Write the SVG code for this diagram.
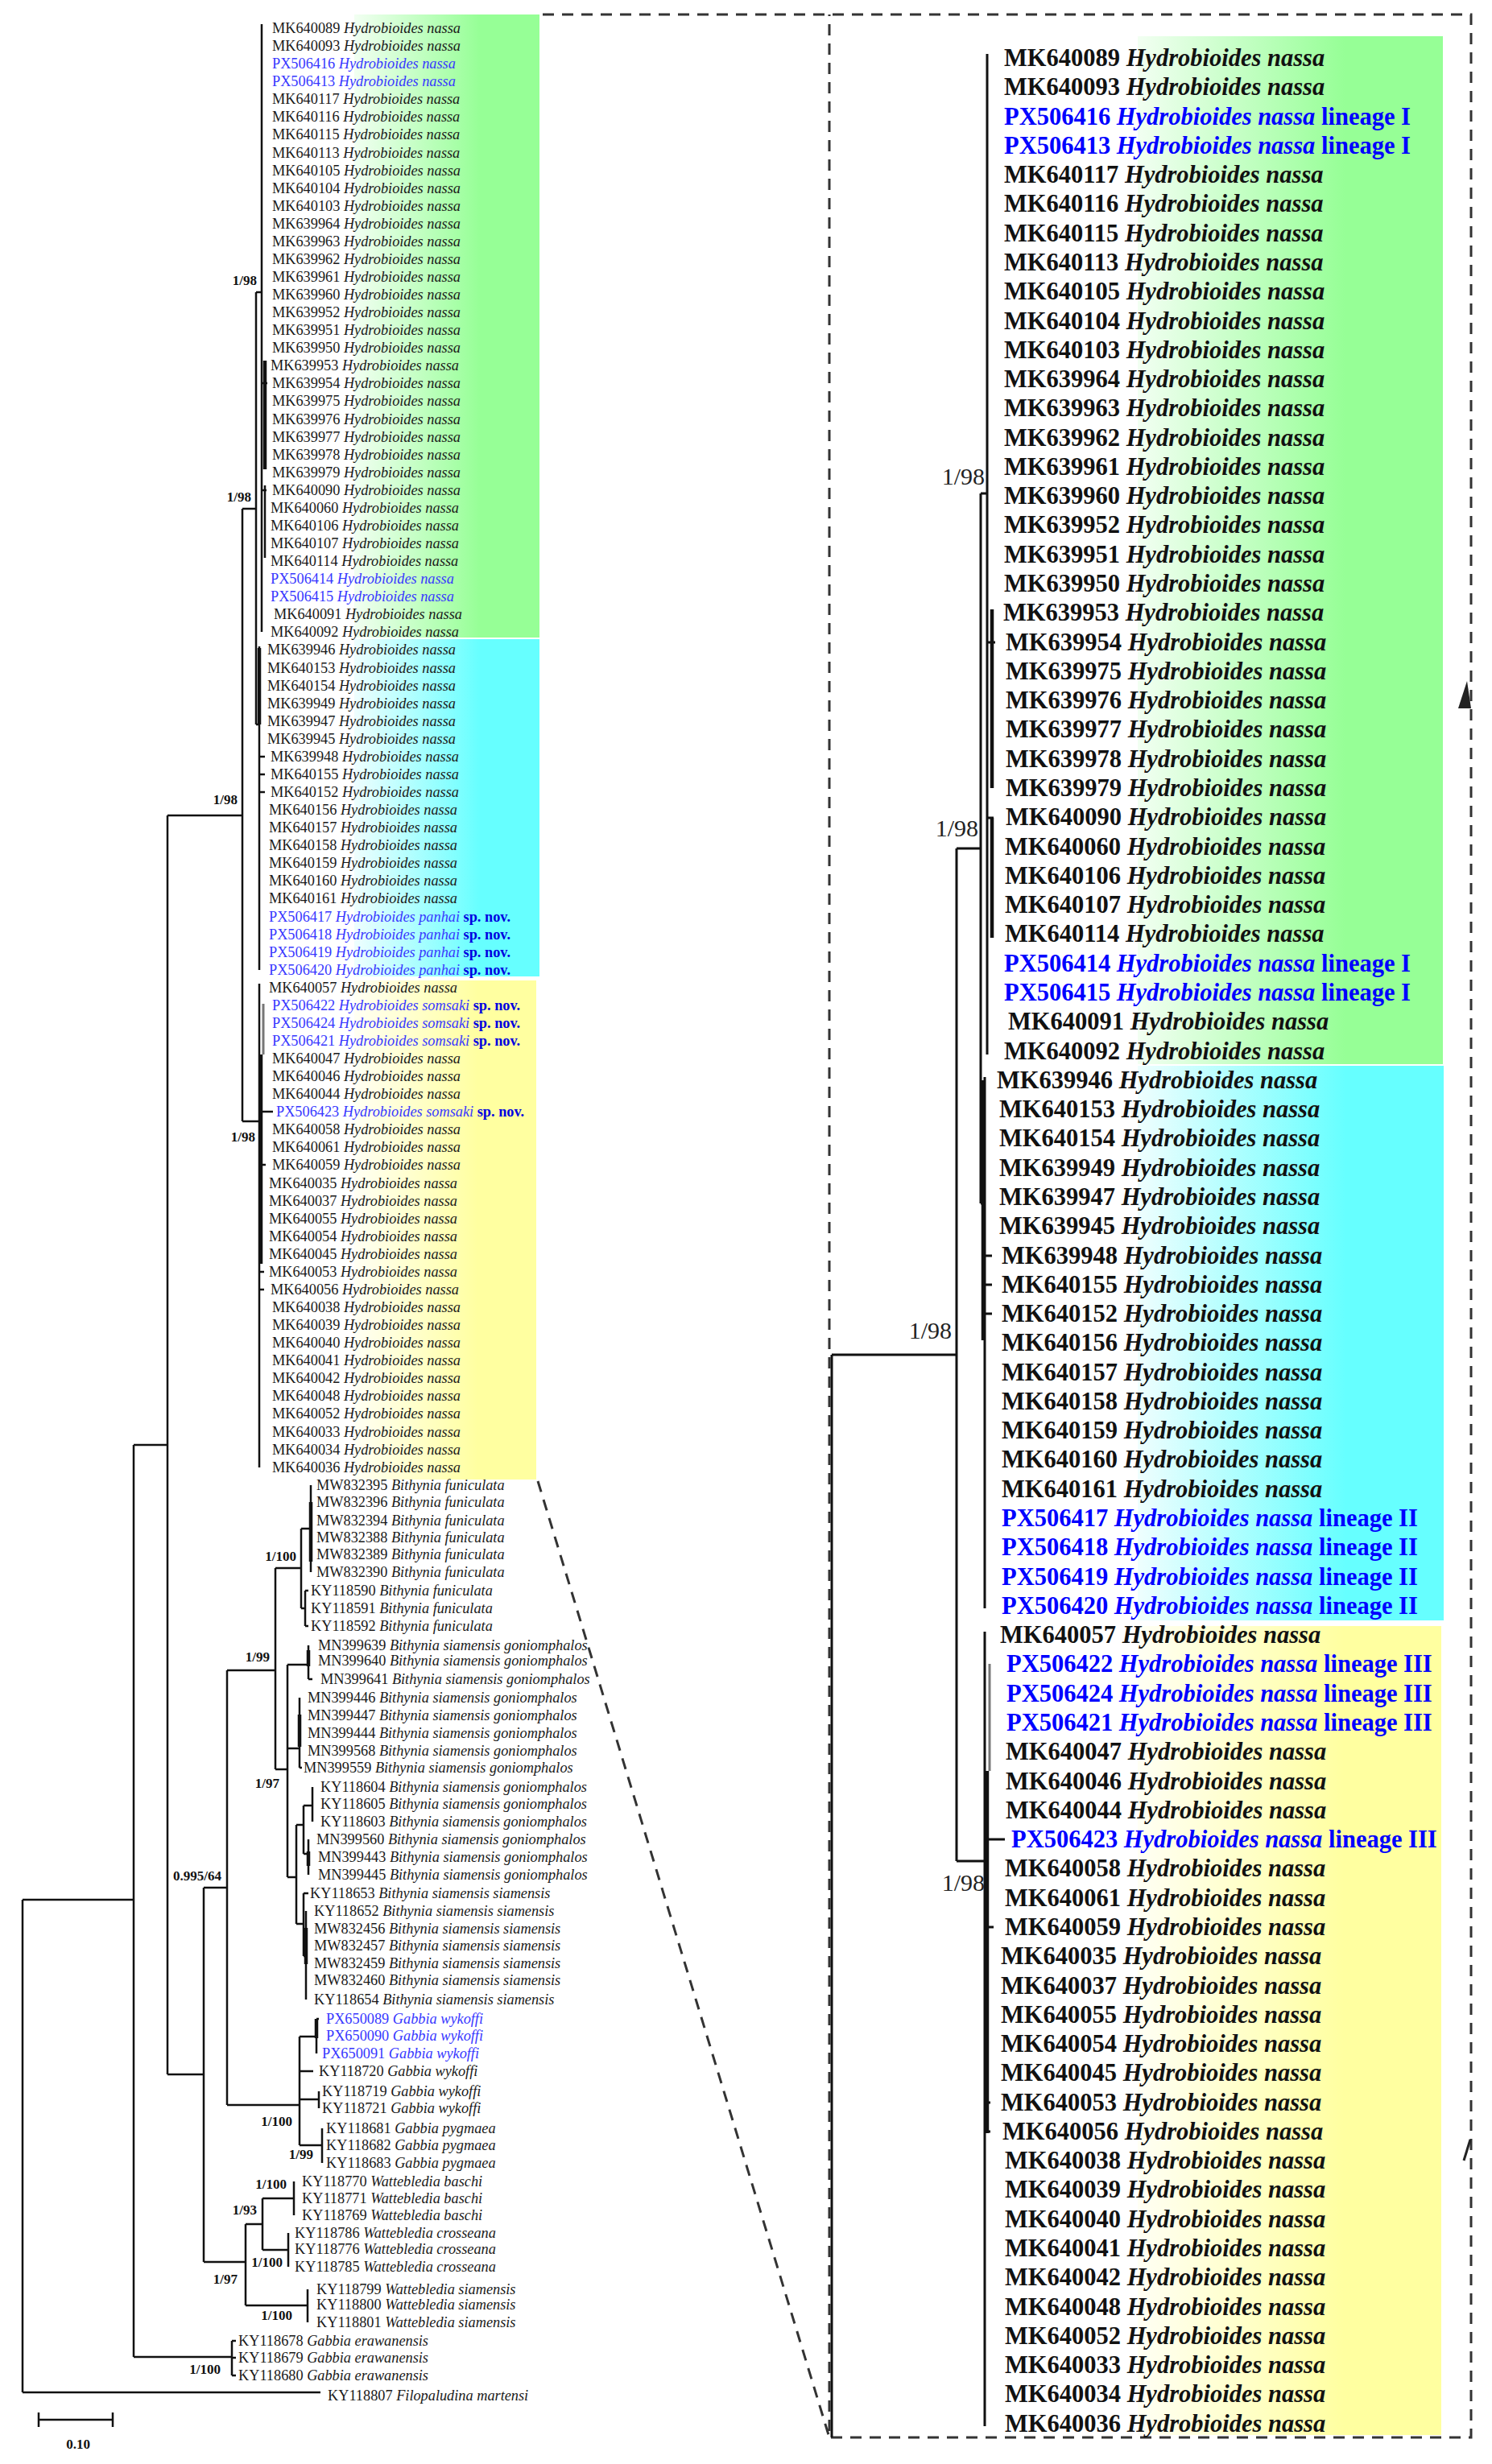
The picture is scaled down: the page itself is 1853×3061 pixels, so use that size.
<svg xmlns="http://www.w3.org/2000/svg" width="1853" height="3061" viewBox="0 0 1853 3061">
<style>
.t{font-family:"Liberation Serif","Times New Roman",serif;font-size:18.3px;fill:#1a1a1a}
.b{fill:#3838ff}
.i{font-style:italic}
.sn{font-weight:bold;fill:#0000e0}
.s{font-family:"Liberation Serif","Times New Roman",serif;font-size:17px;font-weight:bold;fill:#111;text-anchor:end}
.r{font-family:"Liberation Serif","Times New Roman",serif;font-size:30.5px;font-weight:bold;fill:#111}
.rb{fill:#0000ff}
.rs{font-family:"Liberation Serif","Times New Roman",serif;font-size:30px;fill:#222;text-anchor:end}
.br{fill:none;stroke:#111;stroke-width:2.5}
.bt{fill:none;stroke:#111;stroke-width:4.5}
.bg{fill:none;stroke:#777;stroke-width:3}
.rr{fill:none;stroke:#111;stroke-width:3}
.dash{fill:none;stroke:#333;stroke-width:3;stroke-dasharray:14 10}
</style>
<defs>
<linearGradient id="gG" x1="0" x2="1" y1="0" y2="0"><stop offset="0" stop-color="#f2fff2"/><stop offset="0.68" stop-color="#96ff96"/><stop offset="1" stop-color="#96ff96"/></linearGradient>
<linearGradient id="gC" x1="0" x2="1" y1="0" y2="0"><stop offset="0" stop-color="#effefe"/><stop offset="0.68" stop-color="#66ffff"/><stop offset="1" stop-color="#66ffff"/></linearGradient>
<linearGradient id="gY" x1="0" x2="1" y1="0" y2="0"><stop offset="0" stop-color="#fffff4"/><stop offset="0.68" stop-color="#ffffa0"/><stop offset="1" stop-color="#ffffa0"/></linearGradient>
</defs>
<rect width="1853" height="3061" fill="#fff"/>
<g id="clade-boxes">
<rect x="440" y="18" width="230" height="774" fill="url(#gG)"/>
<rect x="440" y="794" width="230" height="419" fill="url(#gC)"/>
<rect x="440" y="1218" width="226" height="620" fill="url(#gY)"/>
<rect x="1413" y="45" width="379" height="1277" fill="url(#gG)"/>
<rect x="1413" y="1324" width="380" height="689" fill="url(#gC)"/>
<rect x="1413" y="2020" width="377" height="1005" fill="url(#gY)"/>
</g>
<g id="zoom-frame">
<path class="dash" d="M674 18H1827V3028H1030V18M668 1840L1030 3028"/>
<path d="M1822 846L1827 880L1811 880Z" fill="#222"/>
<path d="M1826 2658L1818 2684" stroke="#222" stroke-width="3"/>
</g>
<g id="connectors">
<path class="br" d="M28 2360V2972M28 2360H166M28 2972H398M166 1795V2928M166 1795H208M166 2928H288M288 2908V2951M288 2908H293M288 2929H293M288 2951H293M208 1013V2577M208 1013H301M208 2577H253M253 2345V2810M253 2345H282M253 2810H305M282 2075V2615M282 2075H342M282 2615H372M342 1948V2198M342 1948H374M342 2198H357"/>
<path class="br" d="M374 1899V1998M374 1899H386M374 1998H379M386 1845V1953M379 1976V2020M379 1976H383M379 2020H383M357 2068V2332M357 2068H383M357 2172H372M357 2332H368M383 2044V2086M383 2086H388M372 2109V2196M372 2196H375M368 2267V2390M368 2267H377M368 2390H377M377 2243V2303M377 2243H388M377 2303H383M388 2220V2263M383 2285V2329M377 2352V2430M377 2352H383M377 2430H380M380 2374V2484"/>
<path class="bt" d="M386 1866V1940M383 2050V2070M372 2130V2170M383 2300V2318M380 2395V2440"/>
<path class="br" d="M372 2530V2665M372 2530H393M372 2573H389M372 2608H396M372 2665H400M393 2508V2551M393 2508H396M396 2598V2619M400 2644V2687M305 2763V2864M305 2763H326M305 2864H382M326 2731V2795M326 2731H365M326 2795H358M365 2710V2752M358 2774V2816M382 2844V2885"/>
<path class="bt" d="M393 2508V2532"/>
<path class="br" d="M325 30V785M325 476H332M329 603V693M325 609H331M318 363V900M318 363H325M318 900H322M322 803V1205M322 940H329M322 962H329M322 984H329M301 632V1393M301 632H318M301 1393H322M322 1222V1823M322 1381H339M322 1447H330M322 1580H328M322 1602H328"/>
<path class="bt" d="M329 448V583M322 805V900M324 1310V1570"/>
<path class="bg" d="M327 1247V1310"/>
<path class="rr" d="M1033 1683V3028M1033 1683H1188M1188 1054V2312M1188 1054H1218M1188 2312H1223M1218 613V1495M1218 613H1226M1218 1495H1223M1226 67V1310M1226 798H1236M1226 1016H1234M1223 1338V1998M1223 1560H1232M1223 1596H1232M1223 1632H1232M1223 2027V3014M1223 2285H1248M1223 2394H1234M1223 2612H1230M1223 2648H1230"/>
<path class="bt" d="M1232 757V979M1232 1016V1165M1221 1342V1665M1226 2200V2650"/>
<path class="bg" d="M1229 2067V2200"/>
<path class="br" d="M48 3006H140M48 2997V3015M140 2997V3015"/>
</g>
<g id="support-values">
<text class="s" x="319" y="354">1/98</text>
<text class="s" x="312" y="623">1/98</text>
<text class="s" x="295" y="999">1/98</text>
<text class="s" x="317" y="1418">1/98</text>
<text class="s" x="368" y="1939">1/100</text>
<text class="s" x="335" y="2064">1/99</text>
<text class="s" x="347" y="2221">1/97</text>
<text class="s" x="275" y="2336">0.995/64</text>
<text class="s" x="363" y="2641">1/100</text>
<text class="s" x="389" y="2682">1/99</text>
<text class="s" x="356" y="2719">1/100</text>
<text class="s" x="319" y="2751">1/93</text>
<text class="s" x="351" y="2816">1/100</text>
<text class="s" x="295" y="2837">1/97</text>
<text class="s" x="363" y="2882">1/100</text>
<text class="s" x="274" y="2949">1/100</text>
<text class="rs" x="1223" y="602">1/98</text>
<text class="rs" x="1215" y="1039">1/98</text>
<text class="rs" x="1182" y="1663">1/98</text>
<text class="rs" x="1223" y="2349">1/98</text>
</g>
<g id="scale-label"><text class="s" x="112" y="3042">0.10</text></g>
<g id="left-hydrobioides">
<g id="L-MK640089"><text class="t" x="338" y="41">MK640089 <tspan class="i">Hydrobioides nassa</tspan></text></g>
<g id="L-MK640093"><text class="t" x="338" y="63">MK640093 <tspan class="i">Hydrobioides nassa</tspan></text></g>
<g id="L-PX506416"><text class="t b" x="338" y="85">PX506416 <tspan class="i">Hydrobioides nassa</tspan></text></g>
<g id="L-PX506413"><text class="t b" x="338" y="107">PX506413 <tspan class="i">Hydrobioides nassa</tspan></text></g>
<g id="L-MK640117"><text class="t" x="338" y="129">MK640117 <tspan class="i">Hydrobioides nassa</tspan></text></g>
<g id="L-MK640116"><text class="t" x="338" y="151">MK640116 <tspan class="i">Hydrobioides nassa</tspan></text></g>
<g id="L-MK640115"><text class="t" x="338" y="173">MK640115 <tspan class="i">Hydrobioides nassa</tspan></text></g>
<g id="L-MK640113"><text class="t" x="338" y="196">MK640113 <tspan class="i">Hydrobioides nassa</tspan></text></g>
<g id="L-MK640105"><text class="t" x="338" y="218">MK640105 <tspan class="i">Hydrobioides nassa</tspan></text></g>
<g id="L-MK640104"><text class="t" x="338" y="240">MK640104 <tspan class="i">Hydrobioides nassa</tspan></text></g>
<g id="L-MK640103"><text class="t" x="338" y="262">MK640103 <tspan class="i">Hydrobioides nassa</tspan></text></g>
<g id="L-MK639964"><text class="t" x="338" y="284">MK639964 <tspan class="i">Hydrobioides nassa</tspan></text></g>
<g id="L-MK639963"><text class="t" x="338" y="306">MK639963 <tspan class="i">Hydrobioides nassa</tspan></text></g>
<g id="L-MK639962"><text class="t" x="338" y="328">MK639962 <tspan class="i">Hydrobioides nassa</tspan></text></g>
<g id="L-MK639961"><text class="t" x="338" y="350">MK639961 <tspan class="i">Hydrobioides nassa</tspan></text></g>
<g id="L-MK639960"><text class="t" x="338" y="372">MK639960 <tspan class="i">Hydrobioides nassa</tspan></text></g>
<g id="L-MK639952"><text class="t" x="338" y="394">MK639952 <tspan class="i">Hydrobioides nassa</tspan></text></g>
<g id="L-MK639951"><text class="t" x="338" y="416">MK639951 <tspan class="i">Hydrobioides nassa</tspan></text></g>
<g id="L-MK639950"><text class="t" x="338" y="438">MK639950 <tspan class="i">Hydrobioides nassa</tspan></text></g>
<g id="L-MK639953"><text class="t" x="336" y="460">MK639953 <tspan class="i">Hydrobioides nassa</tspan></text></g>
<g id="L-MK639954"><text class="t" x="338" y="482">MK639954 <tspan class="i">Hydrobioides nassa</tspan></text></g>
<g id="L-MK639975"><text class="t" x="338" y="504">MK639975 <tspan class="i">Hydrobioides nassa</tspan></text></g>
<g id="L-MK639976"><text class="t" x="338" y="527">MK639976 <tspan class="i">Hydrobioides nassa</tspan></text></g>
<g id="L-MK639977"><text class="t" x="338" y="549">MK639977 <tspan class="i">Hydrobioides nassa</tspan></text></g>
<g id="L-MK639978"><text class="t" x="338" y="571">MK639978 <tspan class="i">Hydrobioides nassa</tspan></text></g>
<g id="L-MK639979"><text class="t" x="338" y="593">MK639979 <tspan class="i">Hydrobioides nassa</tspan></text></g>
<g id="L-MK640090"><text class="t" x="338" y="615">MK640090 <tspan class="i">Hydrobioides nassa</tspan></text></g>
<g id="L-MK640060"><text class="t" x="336" y="637">MK640060 <tspan class="i">Hydrobioides nassa</tspan></text></g>
<g id="L-MK640106"><text class="t" x="336" y="659">MK640106 <tspan class="i">Hydrobioides nassa</tspan></text></g>
<g id="L-MK640107"><text class="t" x="336" y="681">MK640107 <tspan class="i">Hydrobioides nassa</tspan></text></g>
<g id="L-MK640114"><text class="t" x="336" y="703">MK640114 <tspan class="i">Hydrobioides nassa</tspan></text></g>
<g id="L-PX506414"><text class="t b" x="336" y="725">PX506414 <tspan class="i">Hydrobioides nassa</tspan></text></g>
<g id="L-PX506415"><text class="t b" x="336" y="747">PX506415 <tspan class="i">Hydrobioides nassa</tspan></text></g>
<g id="L-MK640091"><text class="t" x="340" y="769">MK640091 <tspan class="i">Hydrobioides nassa</tspan></text></g>
<g id="L-MK640092"><text class="t" x="336" y="791">MK640092 <tspan class="i">Hydrobioides nassa</tspan></text></g>
<g id="L-MK639946"><text class="t" x="332" y="813">MK639946 <tspan class="i">Hydrobioides nassa</tspan></text></g>
<g id="L-MK640153"><text class="t" x="332" y="836">MK640153 <tspan class="i">Hydrobioides nassa</tspan></text></g>
<g id="L-MK640154"><text class="t" x="332" y="858">MK640154 <tspan class="i">Hydrobioides nassa</tspan></text></g>
<g id="L-MK639949"><text class="t" x="332" y="880">MK639949 <tspan class="i">Hydrobioides nassa</tspan></text></g>
<g id="L-MK639947"><text class="t" x="332" y="902">MK639947 <tspan class="i">Hydrobioides nassa</tspan></text></g>
<g id="L-MK639945"><text class="t" x="332" y="924">MK639945 <tspan class="i">Hydrobioides nassa</tspan></text></g>
<g id="L-MK639948"><text class="t" x="336" y="946">MK639948 <tspan class="i">Hydrobioides nassa</tspan></text></g>
<g id="L-MK640155"><text class="t" x="336" y="968">MK640155 <tspan class="i">Hydrobioides nassa</tspan></text></g>
<g id="L-MK640152"><text class="t" x="336" y="990">MK640152 <tspan class="i">Hydrobioides nassa</tspan></text></g>
<g id="L-MK640156"><text class="t" x="334" y="1012">MK640156 <tspan class="i">Hydrobioides nassa</tspan></text></g>
<g id="L-MK640157"><text class="t" x="334" y="1034">MK640157 <tspan class="i">Hydrobioides nassa</tspan></text></g>
<g id="L-MK640158"><text class="t" x="334" y="1056">MK640158 <tspan class="i">Hydrobioides nassa</tspan></text></g>
<g id="L-MK640159"><text class="t" x="334" y="1078">MK640159 <tspan class="i">Hydrobioides nassa</tspan></text></g>
<g id="L-MK640160"><text class="t" x="334" y="1100">MK640160 <tspan class="i">Hydrobioides nassa</tspan></text></g>
<g id="L-MK640161"><text class="t" x="334" y="1122">MK640161 <tspan class="i">Hydrobioides nassa</tspan></text></g>
<g id="L-PX506417"><text class="t b" x="334" y="1145">PX506417 <tspan class="i">Hydrobioides panhai</tspan> <tspan class="sn">sp. nov.</tspan></text></g>
<g id="L-PX506418"><text class="t b" x="334" y="1167">PX506418 <tspan class="i">Hydrobioides panhai</tspan> <tspan class="sn">sp. nov.</tspan></text></g>
<g id="L-PX506419"><text class="t b" x="334" y="1189">PX506419 <tspan class="i">Hydrobioides panhai</tspan> <tspan class="sn">sp. nov.</tspan></text></g>
<g id="L-PX506420"><text class="t b" x="334" y="1211">PX506420 <tspan class="i">Hydrobioides panhai</tspan> <tspan class="sn">sp. nov.</tspan></text></g>
<g id="L-MK640057"><text class="t" x="334" y="1233">MK640057 <tspan class="i">Hydrobioides nassa</tspan></text></g>
<g id="L-PX506422"><text class="t b" x="338" y="1255">PX506422 <tspan class="i">Hydrobioides somsaki</tspan> <tspan class="sn">sp. nov.</tspan></text></g>
<g id="L-PX506424"><text class="t b" x="338" y="1277">PX506424 <tspan class="i">Hydrobioides somsaki</tspan> <tspan class="sn">sp. nov.</tspan></text></g>
<g id="L-PX506421"><text class="t b" x="338" y="1299">PX506421 <tspan class="i">Hydrobioides somsaki</tspan> <tspan class="sn">sp. nov.</tspan></text></g>
<g id="L-MK640047"><text class="t" x="338" y="1321">MK640047 <tspan class="i">Hydrobioides nassa</tspan></text></g>
<g id="L-MK640046"><text class="t" x="338" y="1343">MK640046 <tspan class="i">Hydrobioides nassa</tspan></text></g>
<g id="L-MK640044"><text class="t" x="338" y="1365">MK640044 <tspan class="i">Hydrobioides nassa</tspan></text></g>
<g id="L-PX506423"><text class="t b" x="343" y="1387">PX506423 <tspan class="i">Hydrobioides somsaki</tspan> <tspan class="sn">sp. nov.</tspan></text></g>
<g id="L-MK640058"><text class="t" x="338" y="1409">MK640058 <tspan class="i">Hydrobioides nassa</tspan></text></g>
<g id="L-MK640061"><text class="t" x="338" y="1431">MK640061 <tspan class="i">Hydrobioides nassa</tspan></text></g>
<g id="L-MK640059"><text class="t" x="338" y="1453">MK640059 <tspan class="i">Hydrobioides nassa</tspan></text></g>
<g id="L-MK640035"><text class="t" x="334" y="1476">MK640035 <tspan class="i">Hydrobioides nassa</tspan></text></g>
<g id="L-MK640037"><text class="t" x="334" y="1498">MK640037 <tspan class="i">Hydrobioides nassa</tspan></text></g>
<g id="L-MK640055"><text class="t" x="334" y="1520">MK640055 <tspan class="i">Hydrobioides nassa</tspan></text></g>
<g id="L-MK640054"><text class="t" x="334" y="1542">MK640054 <tspan class="i">Hydrobioides nassa</tspan></text></g>
<g id="L-MK640045"><text class="t" x="334" y="1564">MK640045 <tspan class="i">Hydrobioides nassa</tspan></text></g>
<g id="L-MK640053"><text class="t" x="334" y="1586">MK640053 <tspan class="i">Hydrobioides nassa</tspan></text></g>
<g id="L-MK640056"><text class="t" x="336" y="1608">MK640056 <tspan class="i">Hydrobioides nassa</tspan></text></g>
<g id="L-MK640038"><text class="t" x="338" y="1630">MK640038 <tspan class="i">Hydrobioides nassa</tspan></text></g>
<g id="L-MK640039"><text class="t" x="338" y="1652">MK640039 <tspan class="i">Hydrobioides nassa</tspan></text></g>
<g id="L-MK640040"><text class="t" x="338" y="1674">MK640040 <tspan class="i">Hydrobioides nassa</tspan></text></g>
<g id="L-MK640041"><text class="t" x="338" y="1696">MK640041 <tspan class="i">Hydrobioides nassa</tspan></text></g>
<g id="L-MK640042"><text class="t" x="338" y="1718">MK640042 <tspan class="i">Hydrobioides nassa</tspan></text></g>
<g id="L-MK640048"><text class="t" x="338" y="1740">MK640048 <tspan class="i">Hydrobioides nassa</tspan></text></g>
<g id="L-MK640052"><text class="t" x="338" y="1762">MK640052 <tspan class="i">Hydrobioides nassa</tspan></text></g>
<g id="L-MK640033"><text class="t" x="338" y="1785">MK640033 <tspan class="i">Hydrobioides nassa</tspan></text></g>
<g id="L-MK640034"><text class="t" x="338" y="1807">MK640034 <tspan class="i">Hydrobioides nassa</tspan></text></g>
<g id="L-MK640036"><text class="t" x="338" y="1829">MK640036 <tspan class="i">Hydrobioides nassa</tspan></text></g>
</g>
<g id="left-outgroups">
<g id="L-MW832395"><text class="t" x="393" y="1851">MW832395 <tspan class="i">Bithynia funiculata</tspan></text></g>
<g id="L-MW832396"><text class="t" x="393" y="1872">MW832396 <tspan class="i">Bithynia funiculata</tspan></text></g>
<g id="L-MW832394"><text class="t" x="393" y="1895">MW832394 <tspan class="i">Bithynia funiculata</tspan></text></g>
<g id="L-MW832388"><text class="t" x="393" y="1916">MW832388 <tspan class="i">Bithynia funiculata</tspan></text></g>
<g id="L-MW832389"><text class="t" x="393" y="1937">MW832389 <tspan class="i">Bithynia funiculata</tspan></text></g>
<g id="L-MW832390"><text class="t" x="393" y="1959">MW832390 <tspan class="i">Bithynia funiculata</tspan></text></g>
<g id="L-KY118590"><text class="t" x="386" y="1982">KY118590 <tspan class="i">Bithynia funiculata</tspan></text></g>
<g id="L-KY118591"><text class="t" x="386" y="2004">KY118591 <tspan class="i">Bithynia funiculata</tspan></text></g>
<g id="L-KY118592"><text class="t" x="386" y="2026">KY118592 <tspan class="i">Bithynia funiculata</tspan></text></g>
<g id="L-MN399639"><text class="t" x="395" y="2050">MN399639 <tspan class="i">Bithynia siamensis goniomphalos</tspan></text></g>
<g id="L-MN399640"><text class="t" x="395" y="2069">MN399640 <tspan class="i">Bithynia siamensis goniomphalos</tspan></text></g>
<g id="L-MN399641"><text class="t" x="398" y="2092">MN399641 <tspan class="i">Bithynia siamensis goniomphalos</tspan></text></g>
<g id="L-MN399446"><text class="t" x="382" y="2115">MN399446 <tspan class="i">Bithynia siamensis goniomphalos</tspan></text></g>
<g id="L-MN399447"><text class="t" x="382" y="2137">MN399447 <tspan class="i">Bithynia siamensis goniomphalos</tspan></text></g>
<g id="L-MN399444"><text class="t" x="382" y="2159">MN399444 <tspan class="i">Bithynia siamensis goniomphalos</tspan></text></g>
<g id="L-MN399568"><text class="t" x="382" y="2181">MN399568 <tspan class="i">Bithynia siamensis goniomphalos</tspan></text></g>
<g id="L-MN399559"><text class="t" x="377" y="2202">MN399559 <tspan class="i">Bithynia siamensis goniomphalos</tspan></text></g>
<g id="L-KY118604"><text class="t" x="398" y="2226">KY118604 <tspan class="i">Bithynia siamensis goniomphalos</tspan></text></g>
<g id="L-KY118605"><text class="t" x="398" y="2247">KY118605 <tspan class="i">Bithynia siamensis goniomphalos</tspan></text></g>
<g id="L-KY118603"><text class="t" x="398" y="2269">KY118603 <tspan class="i">Bithynia siamensis goniomphalos</tspan></text></g>
<g id="L-MN399560"><text class="t" x="393" y="2291">MN399560 <tspan class="i">Bithynia siamensis goniomphalos</tspan></text></g>
<g id="L-MN399443"><text class="t" x="395" y="2313">MN399443 <tspan class="i">Bithynia siamensis goniomphalos</tspan></text></g>
<g id="L-MN399445"><text class="t" x="395" y="2335">MN399445 <tspan class="i">Bithynia siamensis goniomphalos</tspan></text></g>
<g id="L-KY118653"><text class="t" x="385" y="2358">KY118653 <tspan class="i">Bithynia siamensis siamensis</tspan></text></g>
<g id="L-KY118652"><text class="t" x="390" y="2380">KY118652 <tspan class="i">Bithynia siamensis siamensis</tspan></text></g>
<g id="L-MW832456"><text class="t" x="390" y="2402">MW832456 <tspan class="i">Bithynia siamensis siamensis</tspan></text></g>
<g id="L-MW832457"><text class="t" x="390" y="2423">MW832457 <tspan class="i">Bithynia siamensis siamensis</tspan></text></g>
<g id="L-MW832459"><text class="t" x="390" y="2445">MW832459 <tspan class="i">Bithynia siamensis siamensis</tspan></text></g>
<g id="L-MW832460"><text class="t" x="390" y="2466">MW832460 <tspan class="i">Bithynia siamensis siamensis</tspan></text></g>
<g id="L-KY118654"><text class="t" x="390" y="2490">KY118654 <tspan class="i">Bithynia siamensis siamensis</tspan></text></g>
<g id="L-PX650089"><text class="t b" x="405" y="2514">PX650089 <tspan class="i">Gabbia wykoffi</tspan></text></g>
<g id="L-PX650090"><text class="t b" x="405" y="2535">PX650090 <tspan class="i">Gabbia wykoffi</tspan></text></g>
<g id="L-PX650091"><text class="t b" x="400" y="2557">PX650091 <tspan class="i">Gabbia wykoffi</tspan></text></g>
<g id="L-KY118720"><text class="t" x="396" y="2579">KY118720 <tspan class="i">Gabbia wykoffi</tspan></text></g>
<g id="L-KY118719"><text class="t" x="400" y="2604">KY118719 <tspan class="i">Gabbia wykoffi</tspan></text></g>
<g id="L-KY118721"><text class="t" x="400" y="2625">KY118721 <tspan class="i">Gabbia wykoffi</tspan></text></g>
<g id="L-KY118681"><text class="t" x="405" y="2650">KY118681 <tspan class="i">Gabbia pygmaea</tspan></text></g>
<g id="L-KY118682"><text class="t" x="405" y="2671">KY118682 <tspan class="i">Gabbia pygmaea</tspan></text></g>
<g id="L-KY118683"><text class="t" x="405" y="2693">KY118683 <tspan class="i">Gabbia pygmaea</tspan></text></g>
<g id="L-KY118770"><text class="t" x="375" y="2716">KY118770 <tspan class="i">Wattebledia baschi</tspan></text></g>
<g id="L-KY118771"><text class="t" x="375" y="2737">KY118771 <tspan class="i">Wattebledia baschi</tspan></text></g>
<g id="L-KY118769"><text class="t" x="375" y="2758">KY118769 <tspan class="i">Wattebledia baschi</tspan></text></g>
<g id="L-KY118786"><text class="t" x="366" y="2780">KY118786 <tspan class="i">Wattebledia crosseana</tspan></text></g>
<g id="L-KY118776"><text class="t" x="366" y="2800">KY118776 <tspan class="i">Wattebledia crosseana</tspan></text></g>
<g id="L-KY118785"><text class="t" x="366" y="2822">KY118785 <tspan class="i">Wattebledia crosseana</tspan></text></g>
<g id="L-KY118799"><text class="t" x="393" y="2850">KY118799 <tspan class="i">Wattebledia siamensis</tspan></text></g>
<g id="L-KY118800"><text class="t" x="393" y="2869">KY118800 <tspan class="i">Wattebledia siamensis</tspan></text></g>
<g id="L-KY118801"><text class="t" x="393" y="2891">KY118801 <tspan class="i">Wattebledia siamensis</tspan></text></g>
<g id="L-KY118678"><text class="t" x="296" y="2914">KY118678 <tspan class="i">Gabbia erawanensis</tspan></text></g>
<g id="L-KY118679"><text class="t" x="296" y="2935">KY118679 <tspan class="i">Gabbia erawanensis</tspan></text></g>
<g id="L-KY118680"><text class="t" x="296" y="2957">KY118680 <tspan class="i">Gabbia erawanensis</tspan></text></g>
<g id="L-KY118807"><text class="t" x="407" y="2982">KY118807 <tspan class="i">Filopaludina martensi</tspan></text></g>
</g>
<g id="right-panel">
<g id="R-MK640089"><text class="r" x="1247" y="82">MK640089 <tspan class="i">Hydrobioides nassa</tspan></text></g>
<g id="R-MK640093"><text class="r" x="1247" y="118">MK640093 <tspan class="i">Hydrobioides nassa</tspan></text></g>
<g id="R-PX506416"><text class="r rb" x="1247" y="155">PX506416 <tspan class="i">Hydrobioides nassa</tspan> lineage I</text></g>
<g id="R-PX506413"><text class="r rb" x="1247" y="191">PX506413 <tspan class="i">Hydrobioides nassa</tspan> lineage I</text></g>
<g id="R-MK640117"><text class="r" x="1247" y="227">MK640117 <tspan class="i">Hydrobioides nassa</tspan></text></g>
<g id="R-MK640116"><text class="r" x="1247" y="263">MK640116 <tspan class="i">Hydrobioides nassa</tspan></text></g>
<g id="R-MK640115"><text class="r" x="1247" y="300">MK640115 <tspan class="i">Hydrobioides nassa</tspan></text></g>
<g id="R-MK640113"><text class="r" x="1247" y="336">MK640113 <tspan class="i">Hydrobioides nassa</tspan></text></g>
<g id="R-MK640105"><text class="r" x="1247" y="372">MK640105 <tspan class="i">Hydrobioides nassa</tspan></text></g>
<g id="R-MK640104"><text class="r" x="1247" y="409">MK640104 <tspan class="i">Hydrobioides nassa</tspan></text></g>
<g id="R-MK640103"><text class="r" x="1247" y="445">MK640103 <tspan class="i">Hydrobioides nassa</tspan></text></g>
<g id="R-MK639964"><text class="r" x="1247" y="481">MK639964 <tspan class="i">Hydrobioides nassa</tspan></text></g>
<g id="R-MK639963"><text class="r" x="1247" y="517">MK639963 <tspan class="i">Hydrobioides nassa</tspan></text></g>
<g id="R-MK639962"><text class="r" x="1247" y="554">MK639962 <tspan class="i">Hydrobioides nassa</tspan></text></g>
<g id="R-MK639961"><text class="r" x="1247" y="590">MK639961 <tspan class="i">Hydrobioides nassa</tspan></text></g>
<g id="R-MK639960"><text class="r" x="1247" y="626">MK639960 <tspan class="i">Hydrobioides nassa</tspan></text></g>
<g id="R-MK639952"><text class="r" x="1247" y="662">MK639952 <tspan class="i">Hydrobioides nassa</tspan></text></g>
<g id="R-MK639951"><text class="r" x="1247" y="699">MK639951 <tspan class="i">Hydrobioides nassa</tspan></text></g>
<g id="R-MK639950"><text class="r" x="1247" y="735">MK639950 <tspan class="i">Hydrobioides nassa</tspan></text></g>
<g id="R-MK639953"><text class="r" x="1246" y="771">MK639953 <tspan class="i">Hydrobioides nassa</tspan></text></g>
<g id="R-MK639954"><text class="r" x="1249" y="808">MK639954 <tspan class="i">Hydrobioides nassa</tspan></text></g>
<g id="R-MK639975"><text class="r" x="1249" y="844">MK639975 <tspan class="i">Hydrobioides nassa</tspan></text></g>
<g id="R-MK639976"><text class="r" x="1249" y="880">MK639976 <tspan class="i">Hydrobioides nassa</tspan></text></g>
<g id="R-MK639977"><text class="r" x="1249" y="916">MK639977 <tspan class="i">Hydrobioides nassa</tspan></text></g>
<g id="R-MK639978"><text class="r" x="1249" y="953">MK639978 <tspan class="i">Hydrobioides nassa</tspan></text></g>
<g id="R-MK639979"><text class="r" x="1249" y="989">MK639979 <tspan class="i">Hydrobioides nassa</tspan></text></g>
<g id="R-MK640090"><text class="r" x="1249" y="1025">MK640090 <tspan class="i">Hydrobioides nassa</tspan></text></g>
<g id="R-MK640060"><text class="r" x="1248" y="1062">MK640060 <tspan class="i">Hydrobioides nassa</tspan></text></g>
<g id="R-MK640106"><text class="r" x="1248" y="1098">MK640106 <tspan class="i">Hydrobioides nassa</tspan></text></g>
<g id="R-MK640107"><text class="r" x="1248" y="1134">MK640107 <tspan class="i">Hydrobioides nassa</tspan></text></g>
<g id="R-MK640114"><text class="r" x="1248" y="1170">MK640114 <tspan class="i">Hydrobioides nassa</tspan></text></g>
<g id="R-PX506414"><text class="r rb" x="1247" y="1207">PX506414 <tspan class="i">Hydrobioides nassa</tspan> lineage I</text></g>
<g id="R-PX506415"><text class="r rb" x="1247" y="1243">PX506415 <tspan class="i">Hydrobioides nassa</tspan> lineage I</text></g>
<g id="R-MK640091"><text class="r" x="1252" y="1279">MK640091 <tspan class="i">Hydrobioides nassa</tspan></text></g>
<g id="R-MK640092"><text class="r" x="1247" y="1316">MK640092 <tspan class="i">Hydrobioides nassa</tspan></text></g>
<g id="R-MK639946"><text class="r" x="1238" y="1352">MK639946 <tspan class="i">Hydrobioides nassa</tspan></text></g>
<g id="R-MK640153"><text class="r" x="1241" y="1388">MK640153 <tspan class="i">Hydrobioides nassa</tspan></text></g>
<g id="R-MK640154"><text class="r" x="1241" y="1424">MK640154 <tspan class="i">Hydrobioides nassa</tspan></text></g>
<g id="R-MK639949"><text class="r" x="1241" y="1461">MK639949 <tspan class="i">Hydrobioides nassa</tspan></text></g>
<g id="R-MK639947"><text class="r" x="1241" y="1497">MK639947 <tspan class="i">Hydrobioides nassa</tspan></text></g>
<g id="R-MK639945"><text class="r" x="1241" y="1533">MK639945 <tspan class="i">Hydrobioides nassa</tspan></text></g>
<g id="R-MK639948"><text class="r" x="1244" y="1570">MK639948 <tspan class="i">Hydrobioides nassa</tspan></text></g>
<g id="R-MK640155"><text class="r" x="1244" y="1606">MK640155 <tspan class="i">Hydrobioides nassa</tspan></text></g>
<g id="R-MK640152"><text class="r" x="1244" y="1642">MK640152 <tspan class="i">Hydrobioides nassa</tspan></text></g>
<g id="R-MK640156"><text class="r" x="1244" y="1678">MK640156 <tspan class="i">Hydrobioides nassa</tspan></text></g>
<g id="R-MK640157"><text class="r" x="1244" y="1715">MK640157 <tspan class="i">Hydrobioides nassa</tspan></text></g>
<g id="R-MK640158"><text class="r" x="1244" y="1751">MK640158 <tspan class="i">Hydrobioides nassa</tspan></text></g>
<g id="R-MK640159"><text class="r" x="1244" y="1787">MK640159 <tspan class="i">Hydrobioides nassa</tspan></text></g>
<g id="R-MK640160"><text class="r" x="1244" y="1823">MK640160 <tspan class="i">Hydrobioides nassa</tspan></text></g>
<g id="R-MK640161"><text class="r" x="1244" y="1860">MK640161 <tspan class="i">Hydrobioides nassa</tspan></text></g>
<g id="R-PX506417"><text class="r rb" x="1244" y="1896">PX506417 <tspan class="i">Hydrobioides nassa</tspan> lineage II</text></g>
<g id="R-PX506418"><text class="r rb" x="1244" y="1932">PX506418 <tspan class="i">Hydrobioides nassa</tspan> lineage II</text></g>
<g id="R-PX506419"><text class="r rb" x="1244" y="1969">PX506419 <tspan class="i">Hydrobioides nassa</tspan> lineage II</text></g>
<g id="R-PX506420"><text class="r rb" x="1244" y="2005">PX506420 <tspan class="i">Hydrobioides nassa</tspan> lineage II</text></g>
<g id="R-MK640057"><text class="r" x="1242" y="2041">MK640057 <tspan class="i">Hydrobioides nassa</tspan></text></g>
<g id="R-PX506422"><text class="r rb" x="1250" y="2077">PX506422 <tspan class="i">Hydrobioides nassa</tspan> lineage III</text></g>
<g id="R-PX506424"><text class="r rb" x="1250" y="2114">PX506424 <tspan class="i">Hydrobioides nassa</tspan> lineage III</text></g>
<g id="R-PX506421"><text class="r rb" x="1250" y="2150">PX506421 <tspan class="i">Hydrobioides nassa</tspan> lineage III</text></g>
<g id="R-MK640047"><text class="r" x="1249" y="2186">MK640047 <tspan class="i">Hydrobioides nassa</tspan></text></g>
<g id="R-MK640046"><text class="r" x="1249" y="2223">MK640046 <tspan class="i">Hydrobioides nassa</tspan></text></g>
<g id="R-MK640044"><text class="r" x="1249" y="2259">MK640044 <tspan class="i">Hydrobioides nassa</tspan></text></g>
<g id="R-PX506423"><text class="r rb" x="1256" y="2295">PX506423 <tspan class="i">Hydrobioides nassa</tspan> lineage III</text></g>
<g id="R-MK640058"><text class="r" x="1248" y="2331">MK640058 <tspan class="i">Hydrobioides nassa</tspan></text></g>
<g id="R-MK640061"><text class="r" x="1248" y="2368">MK640061 <tspan class="i">Hydrobioides nassa</tspan></text></g>
<g id="R-MK640059"><text class="r" x="1248" y="2404">MK640059 <tspan class="i">Hydrobioides nassa</tspan></text></g>
<g id="R-MK640035"><text class="r" x="1243" y="2440">MK640035 <tspan class="i">Hydrobioides nassa</tspan></text></g>
<g id="R-MK640037"><text class="r" x="1243" y="2477">MK640037 <tspan class="i">Hydrobioides nassa</tspan></text></g>
<g id="R-MK640055"><text class="r" x="1243" y="2513">MK640055 <tspan class="i">Hydrobioides nassa</tspan></text></g>
<g id="R-MK640054"><text class="r" x="1243" y="2549">MK640054 <tspan class="i">Hydrobioides nassa</tspan></text></g>
<g id="R-MK640045"><text class="r" x="1243" y="2585">MK640045 <tspan class="i">Hydrobioides nassa</tspan></text></g>
<g id="R-MK640053"><text class="r" x="1243" y="2622">MK640053 <tspan class="i">Hydrobioides nassa</tspan></text></g>
<g id="R-MK640056"><text class="r" x="1245" y="2658">MK640056 <tspan class="i">Hydrobioides nassa</tspan></text></g>
<g id="R-MK640038"><text class="r" x="1248" y="2694">MK640038 <tspan class="i">Hydrobioides nassa</tspan></text></g>
<g id="R-MK640039"><text class="r" x="1248" y="2730">MK640039 <tspan class="i">Hydrobioides nassa</tspan></text></g>
<g id="R-MK640040"><text class="r" x="1248" y="2767">MK640040 <tspan class="i">Hydrobioides nassa</tspan></text></g>
<g id="R-MK640041"><text class="r" x="1248" y="2803">MK640041 <tspan class="i">Hydrobioides nassa</tspan></text></g>
<g id="R-MK640042"><text class="r" x="1248" y="2839">MK640042 <tspan class="i">Hydrobioides nassa</tspan></text></g>
<g id="R-MK640048"><text class="r" x="1248" y="2876">MK640048 <tspan class="i">Hydrobioides nassa</tspan></text></g>
<g id="R-MK640052"><text class="r" x="1248" y="2912">MK640052 <tspan class="i">Hydrobioides nassa</tspan></text></g>
<g id="R-MK640033"><text class="r" x="1248" y="2948">MK640033 <tspan class="i">Hydrobioides nassa</tspan></text></g>
<g id="R-MK640034"><text class="r" x="1248" y="2984">MK640034 <tspan class="i">Hydrobioides nassa</tspan></text></g>
<g id="R-MK640036"><text class="r" x="1248" y="3021">MK640036 <tspan class="i">Hydrobioides nassa</tspan></text></g>
</g>
</svg>
